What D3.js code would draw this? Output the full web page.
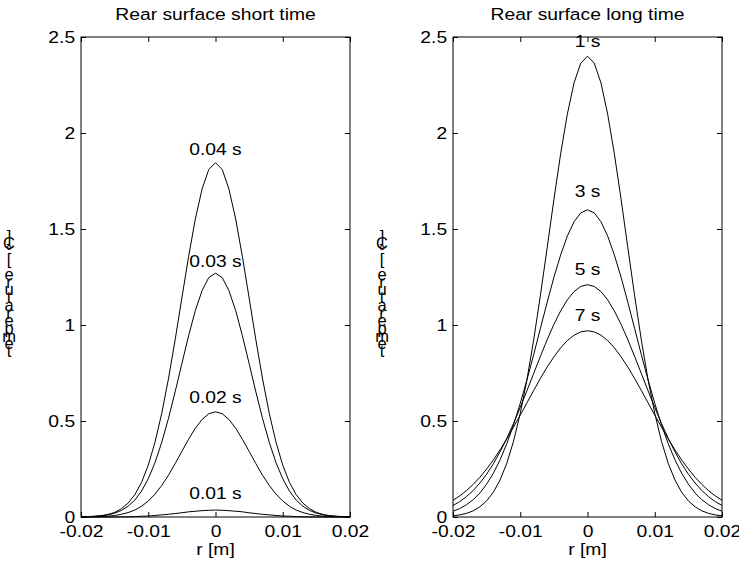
<!DOCTYPE html>
<html><head><meta charset="utf-8">
<script src="https://cdn.jsdelivr.net/npm/d3@7"></script>
<style>body{margin:0;background:#fff} svg{display:block} text{font-family:"Liberation Sans",Arial,sans-serif;fill:#000}</style>
</head><body><svg id="c" width="739" height="568"></svg>
<script>
const rGrid = [-0.020,-0.019,-0.018,-0.017,-0.016,-0.015,-0.014,-0.013,-0.012,-0.011,-0.010,-0.009,-0.008,-0.007,-0.006,-0.005,-0.004,-0.003,-0.002,-0.001,0,0.001,0.002,0.003,0.004,0.005,0.006,0.007,0.008,0.009,0.010,0.011,0.012,0.013,0.014,0.015,0.016,0.017,0.018,0.019,0.020];

const shortT004 = [0.001,0.002,0.004,0.007,0.013,0.024,0.043,0.072,0.116,0.180,0.270,0.389,0.539,0.719,0.923,1.141,1.356,1.552,1.708,1.810,1.845,1.810,1.708,1.552,1.356,1.141,0.923,0.719,0.539,0.389,0.270,0.180,0.116,0.072,0.043,0.024,0.013,0.007,0.004,0.002,0.001];
const shortT003 = [0.001,0.002,0.003,0.006,0.011,0.020,0.034,0.056,0.088,0.135,0.199,0.283,0.388,0.513,0.652,0.799,0.944,1.075,1.179,1.247,1.270,1.247,1.179,1.075,0.944,0.799,0.652,0.513,0.388,0.283,0.199,0.135,0.088,0.056,0.034,0.020,0.011,0.006,0.003,0.002,0.001];
const shortT002 = [0.000,0.001,0.001,0.002,0.004,0.008,0.014,0.023,0.036,0.056,0.083,0.119,0.164,0.217,0.278,0.342,0.405,0.462,0.508,0.538,0.548,0.538,0.508,0.462,0.405,0.342,0.278,0.217,0.164,0.119,0.083,0.056,0.036,0.023,0.014,0.008,0.004,0.002,0.001,0.001,0.000];
const shortT001 = [0,0,0,0,0,0,0.001,0.001,0.002,0.004,0.005,0.008,0.011,0.014,0.018,0.022,0.027,0.030,0.033,0.035,0.036,0.035,0.033,0.030,0.027,0.022,0.018,0.014,0.011,0.008,0.005,0.004,0.002,0.001,0.001,0,0,0,0,0,0];

const longT1 = [0.006,0.011,0.019,0.032,0.053,0.084,0.129,0.193,0.280,0.394,0.540,0.716,0.923,1.155,1.402,1.653,1.890,2.098,2.261,2.364,2.400,2.364,2.261,2.098,1.890,1.653,1.402,1.155,0.923,0.716,0.540,0.394,0.280,0.193,0.129,0.084,0.053,0.032,0.019,0.011,0.006];
const longT3 = [0.030,0.044,0.064,0.090,0.125,0.171,0.228,0.298,0.382,0.480,0.592,0.715,0.846,0.983,1.118,1.248,1.364,1.463,1.538,1.584,1.600,1.584,1.538,1.463,1.364,1.248,1.118,0.983,0.846,0.715,0.592,0.480,0.382,0.298,0.228,0.171,0.125,0.090,0.064,0.044,0.030];
const longT5 = [0.060,0.080,0.106,0.138,0.177,0.223,0.277,0.340,0.410,0.487,0.571,0.658,0.748,0.837,0.923,1.003,1.073,1.131,1.174,1.201,1.210,1.201,1.174,1.131,1.073,1.003,0.923,0.837,0.748,0.658,0.571,0.487,0.410,0.340,0.277,0.223,0.177,0.138,0.106,0.080,0.060];
const longT7 = [0.087,0.110,0.137,0.170,0.207,0.250,0.297,0.350,0.407,0.468,0.531,0.595,0.659,0.722,0.781,0.834,0.881,0.919,0.947,0.964,0.970,0.964,0.947,0.919,0.881,0.834,0.781,0.722,0.659,0.595,0.531,0.468,0.407,0.350,0.297,0.250,0.207,0.170,0.137,0.110,0.087];

const shortLabels = ["0.04 s","0.03 s","0.02 s","0.01 s"];
const shortLabelY = [1.885,1.302,0.594,0.094];
const longLabels = ["1 s","3 s","5 s","7 s"];
const longLabelY = [2.45,1.667,1.26,1.02];

const xTicks = [-0.02,-0.01,0,0.01,0.02];
const xTickLabels = ["-0.02","-0.01","0","0.01","0.02"];
const yTicks = [0,0.5,1,1.5,2,2.5];
const yTickLabels = ["0","0.5","1","1.5","2","2.5"];
const titles = ["Rear surface short time","Rear surface long time"];
const xLabel = "r [m]";
const yLabel = "temperature [°C]";

const FS = 16.5, SX = 1.17;
const svg = d3.select("#c");
const panels = [
  {x0:81, x1:350, series:[shortT004,shortT003,shortT002,shortT001], labels:shortLabels, labelY:shortLabelY, title:titles[0], ylx:9},
  {x0:453, x1:722, series:[longT1,longT3,longT5,longT7], labels:longLabels, labelY:longLabelY, title:titles[1], ylx:382}
];
const yTop = 37, yBot = 517;

function stext(g, x, y, str, anchor){
  return g.append("text").attr("transform",`translate(${x},${y}) scale(${SX},1)`)
    .attr("text-anchor",anchor||"middle").attr("font-size",FS).text(str);
}

panels.forEach(p => {
  const x = d3.scaleLinear().domain([-0.02,0.02]).range([p.x0,p.x1]);
  const y = d3.scaleLinear().domain([0,2.5]).range([yBot,yTop]);
  const g = svg.append("g");
  const line = d3.line().x((d,i)=>x(rGrid[i])).y(d=>y(d));
  p.series.forEach(s => {
    g.append("path").attr("d", line(s)).attr("fill","none").attr("stroke","#000").attr("stroke-width",1);
  });
  const ax = [
    g.append("g").attr("transform",`translate(0,${yBot})`).call(d3.axisBottom(x).tickValues(xTicks).tickSize(-5).tickPadding(8).tickFormat((d,i)=>xTickLabels[i])),
    g.append("g").attr("transform",`translate(0,${yTop})`).call(d3.axisTop(x).tickValues(xTicks).tickSize(-5).tickFormat("")),
    g.append("g").attr("transform",`translate(${p.x0},0)`).call(d3.axisLeft(y).tickValues(yTicks).tickSize(-5).tickPadding(5).tickFormat((d,i)=>yTickLabels[i])),
    g.append("g").attr("transform",`translate(${p.x1},0)`).call(d3.axisRight(y).tickValues(yTicks).tickSize(-5).tickFormat(""))
  ];
  ax.forEach(a => {
    a.select(".domain").remove();
    a.selectAll(".tick line").attr("stroke","#000");
    a.selectAll("text").attr("font-family",'"Liberation Sans",Arial,sans-serif').attr("font-size",FS)
      .attr("transform",`scale(${SX},1)`);
  });
  g.append("rect").attr("x",p.x0).attr("y",yTop).attr("width",p.x1-p.x0).attr("height",yBot-yTop)
    .attr("fill","none").attr("stroke","#000").attr("stroke-width",1);
  p.labels.forEach((l,i) => stext(g, x(0), y(p.labelY[i]), l));
  stext(g, (p.x0+p.x1)/2, 20, p.title);
  stext(g, (p.x0+p.x1)/2, 555, xLabel);
  const chars = Array.from(yLabel);
  chars.forEach((c,i) => {
    g.append("text").attr("x",p.ylx).attr("y",357 - i*7.7).attr("text-anchor","middle")
      .attr("font-size",FS).text(c);
  });
});
</script></body></html>
